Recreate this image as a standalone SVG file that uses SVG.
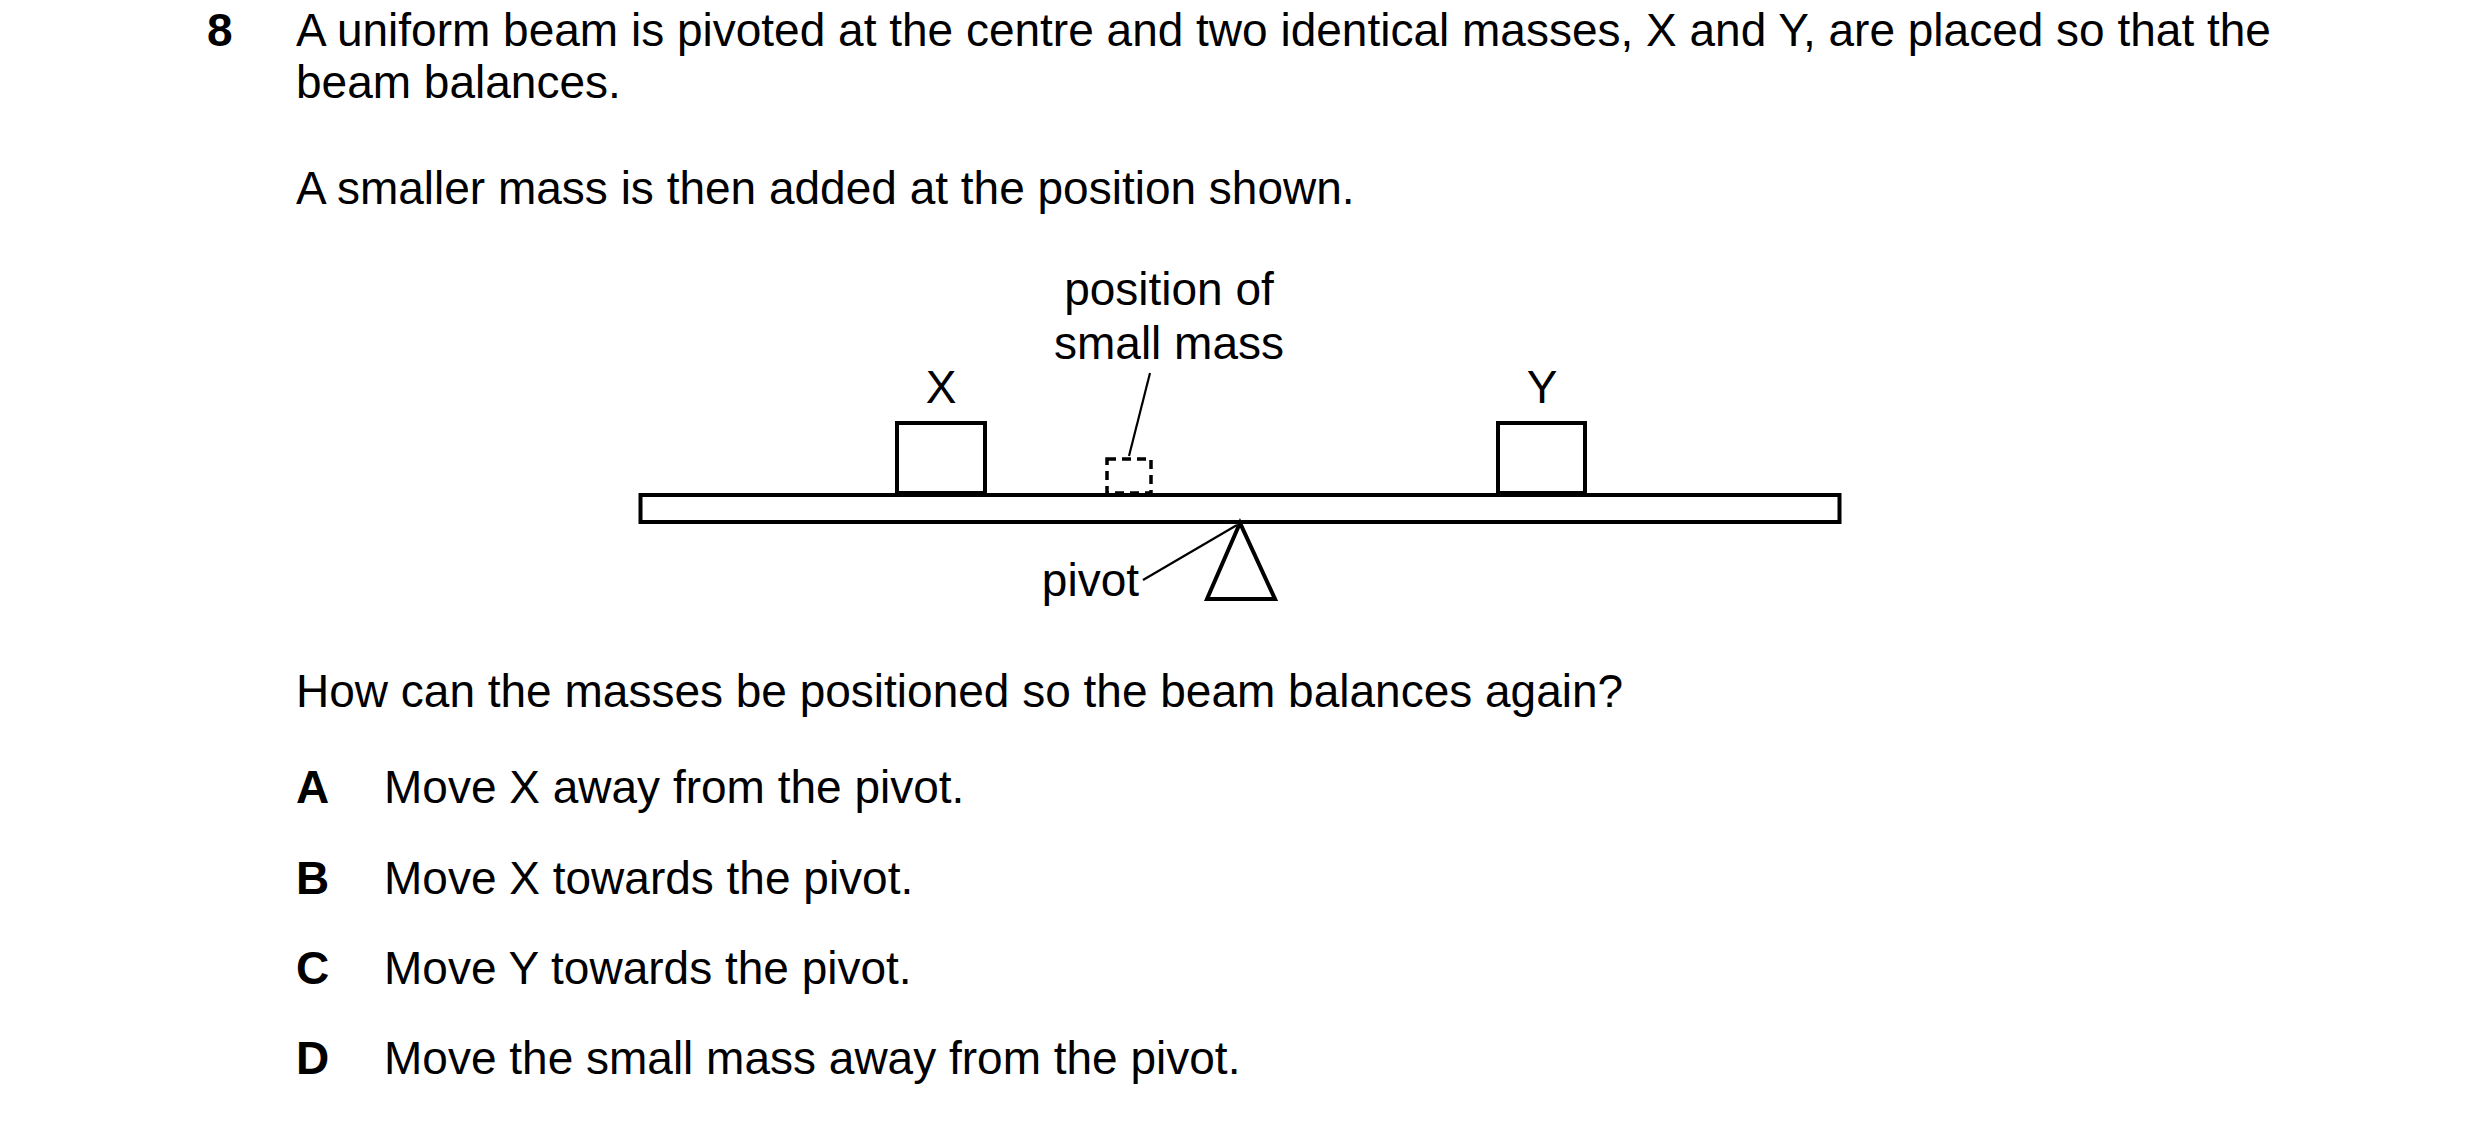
<svg xmlns="http://www.w3.org/2000/svg" width="2480" height="1126" viewBox="0 0 2480 1126">
<style>
text{font-family:"Liberation Sans",Arial,sans-serif;fill:#000}
.t{font-size:46px}
.b{font-weight:bold}
.l{font-size:46px}
.s{fill:#fff;stroke:#000;stroke-width:4}
.ln{stroke:#000;stroke-width:2.2;fill:none}
</style>
<rect width="2480" height="1126" fill="#fff"/>
<g id="question">
<text class="t b" x="207" y="46">8</text>
<text class="t" x="296" y="46">A uniform beam is pivoted at the centre and two identical masses, X and Y, are placed so that the</text>
<text class="t" x="296" y="98">beam balances.</text>
<text class="t" x="296" y="204">A smaller mass is then added at the position shown.</text>
<text class="t" x="296" y="707">How can the masses be positioned so the beam balances again?</text>
<text class="t b" x="296" y="803">A</text><text class="t" x="384" y="803">Move X away from the pivot.</text>
<text class="t b" x="296" y="894">B</text><text class="t" x="384" y="894">Move X towards the pivot.</text>
<text class="t b" x="296" y="984">C</text><text class="t" x="384" y="984">Move Y towards the pivot.</text>
<text class="t b" x="296" y="1074">D</text><text class="t" x="384" y="1074">Move the small mass away from the pivot.</text>
</g>
<g id="beam"><rect class="s" x="640.5" y="495" width="1199" height="27"/></g>
<g id="massX"><rect class="s" x="897" y="423" width="88" height="70"/><text class="l" x="941" y="403" text-anchor="middle">X</text></g>
<g id="massY"><rect class="s" x="1498" y="423" width="87" height="70"/><text class="l" x="1542" y="403" text-anchor="middle">Y</text></g>
<g id="smallMass"><rect x="1107" y="459" width="44" height="34" fill="none" stroke="#000" stroke-width="3.5" stroke-dasharray="9,6"/>
<text class="l" x="1169" y="305" text-anchor="middle">position of</text>
<text class="l" x="1169" y="359" text-anchor="middle">small mass</text></g>
<g id="pivot"><polygon class="s" points="1240,523 1207,599 1275,599"/>
<text class="l" x="1139" y="596" text-anchor="end">pivot</text></g>
<g id="connectors">
<line class="ln" x1="1143" y1="580" x2="1237" y2="525"/>
<line class="ln" x1="1150" y1="373" x2="1129" y2="456"/>
</g>
</svg>
